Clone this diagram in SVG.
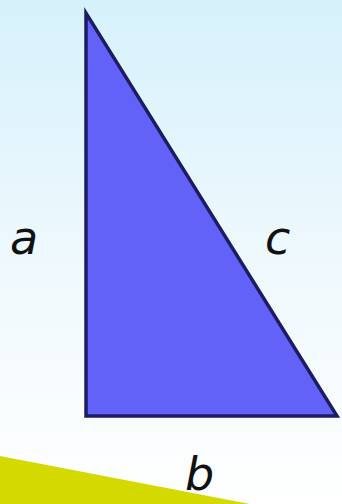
<svg xmlns="http://www.w3.org/2000/svg" width="342" height="504" viewBox="0 0 342 504">
<defs>
<linearGradient id="bg" x1="0" y1="0" x2="0" y2="1">
<stop offset="0" stop-color="#d6f1fb"/>
<stop offset="0.55" stop-color="#f0f9fd"/>
<stop offset="1" stop-color="#ffffff"/>
</linearGradient>
</defs>
<style>
.lbl{font-family:"DejaVu Sans",sans-serif;font-style:italic;font-size:46px;fill:#111}
</style>
<rect width="342" height="504" fill="url(#bg)"/>
<polygon points="0,456 250,504 0,504" fill="#d4da00"/>
<g id="triangle">
<polygon points="86,13 86,416 337,416" fill="#6262f8" stroke="#1c1c64" stroke-width="3.5" stroke-linejoin="miter"/>
</g>
<g id="labels">
<text class="lbl" x="10" y="254">a</text>
<text class="lbl" x="265" y="254">c</text>
<text class="lbl" x="185" y="490">b</text>
</g>
</svg>
